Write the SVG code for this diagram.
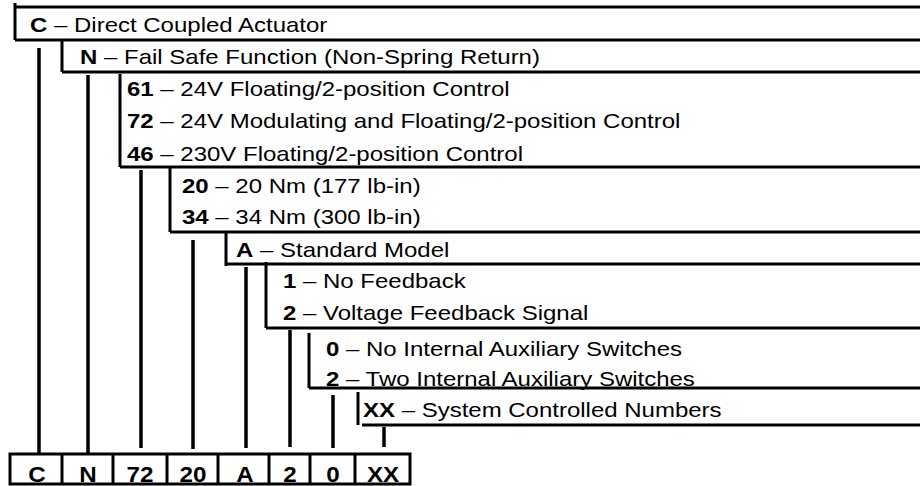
<svg xmlns="http://www.w3.org/2000/svg" width="920" height="486" viewBox="0 0 920 486">
<style>
.ln{stroke:#000;stroke-width:3;fill:none;stroke-linecap:butt}
.cn{stroke:#000;stroke-width:3.5;fill:none}
.t{font-family:"Liberation Sans",Arial,Helvetica,sans-serif;font-size:20px;fill:#000}
.b{font-weight:bold}
.c{text-anchor:middle;font-size:22px}
</style>
<rect width="920" height="486" fill="#fff"/>
<g id="node-C">
<path class="ln" d="M15,3V40M15,7H920M15,40H920"/>
<text class="t" transform="translate(30,32) scale(1.2,1)"><tspan class="b">C</tspan> – Direct Coupled Actuator</text>
</g>
<g id="node-N">
<path class="ln" d="M62,39V72M62,72H920"/>
<text class="t" transform="translate(80,64) scale(1.2,1)"><tspan class="b">N</tspan> – Fail Safe Function (Non-Spring Return)</text>
</g>
<g id="node-control">
<path class="ln" d="M120,74V167M120,167H920"/>
<text class="t" transform="translate(127,96) scale(1.2,1)"><tspan class="b">61</tspan> – 24V Floating/2-position Control</text>
<text class="t" transform="translate(127,128) scale(1.2,1)"><tspan class="b">72</tspan> – 24V Modulating and Floating/2-position Control</text>
<text class="t" transform="translate(127,161) scale(1.2,1)"><tspan class="b">46</tspan> – 230V Floating/2-position Control</text>
</g>
<g id="node-torque">
<path class="ln" d="M170,166V232M170,232H920"/>
<text class="t" transform="translate(182,193) scale(1.2,1)"><tspan class="b">20</tspan> – 20 Nm (177 lb-in)</text>
<text class="t" transform="translate(182,224) scale(1.2,1)"><tspan class="b">34</tspan> – 34 Nm (300 lb-in)</text>
</g>
<g id="node-model">
<path class="ln" d="M226,232V266M226,264H920"/>
<text class="t" transform="translate(236,257) scale(1.2,1)"><tspan class="b">A</tspan> – Standard Model</text>
</g>
<g id="node-feedback">
<path class="ln" d="M266,262V328M266,328H920"/>
<text class="t" transform="translate(283,288) scale(1.2,1)"><tspan class="b">1</tspan> – No Feedback</text>
<text class="t" transform="translate(283,320) scale(1.2,1)"><tspan class="b">2</tspan> – Voltage Feedback Signal</text>
</g>
<g id="node-switches">
<path class="ln" d="M309,333V388M309,388H920"/>
<text class="t" transform="translate(326,356) scale(1.2,1)"><tspan class="b">0</tspan> – No Internal Auxiliary Switches</text>
<text class="t" transform="translate(326,386) scale(1.2,1)"><tspan class="b">2</tspan> – Two Internal Auxiliary Switches</text>
</g>
<g id="node-xx">
<path class="ln" d="M358,392V425M362,425H920"/>
<text class="t" transform="translate(363,417) scale(1.2,1)"><tspan class="b">XX</tspan> – System Controlled Numbers</text>
</g>
<g id="connectors">
<path class="cn" d="M39,48V454M88,75V454M141,170V448M193,240V449M246,267V448M290,330V447M333,395V448M384,427V447"/>
</g>
<g id="node-code">
<rect class="ln" x="10" y="454" width="400" height="30"/>
<path class="ln" d="M62,454V484M113,454V484M167,454V484M218,454V484M269,454V484M310,454V484M355,454V484"/>
<text class="t b c" transform="translate(37,482) scale(1.1,1)">C</text>
<text class="t b c" transform="translate(88,482) scale(1.1,1)">N</text>
<text class="t b c" transform="translate(140,482) scale(1.1,1)">72</text>
<text class="t b c" transform="translate(193,482) scale(1.1,1)">20</text>
<text class="t b c" transform="translate(245,482) scale(1.1,1)">A</text>
<text class="t b c" transform="translate(290,482) scale(1.1,1)">2</text>
<text class="t b c" transform="translate(333,482) scale(1.1,1)">0</text>
<text class="t b c" transform="translate(383,482) scale(1.1,1)">XX</text>
</g>
</svg>
